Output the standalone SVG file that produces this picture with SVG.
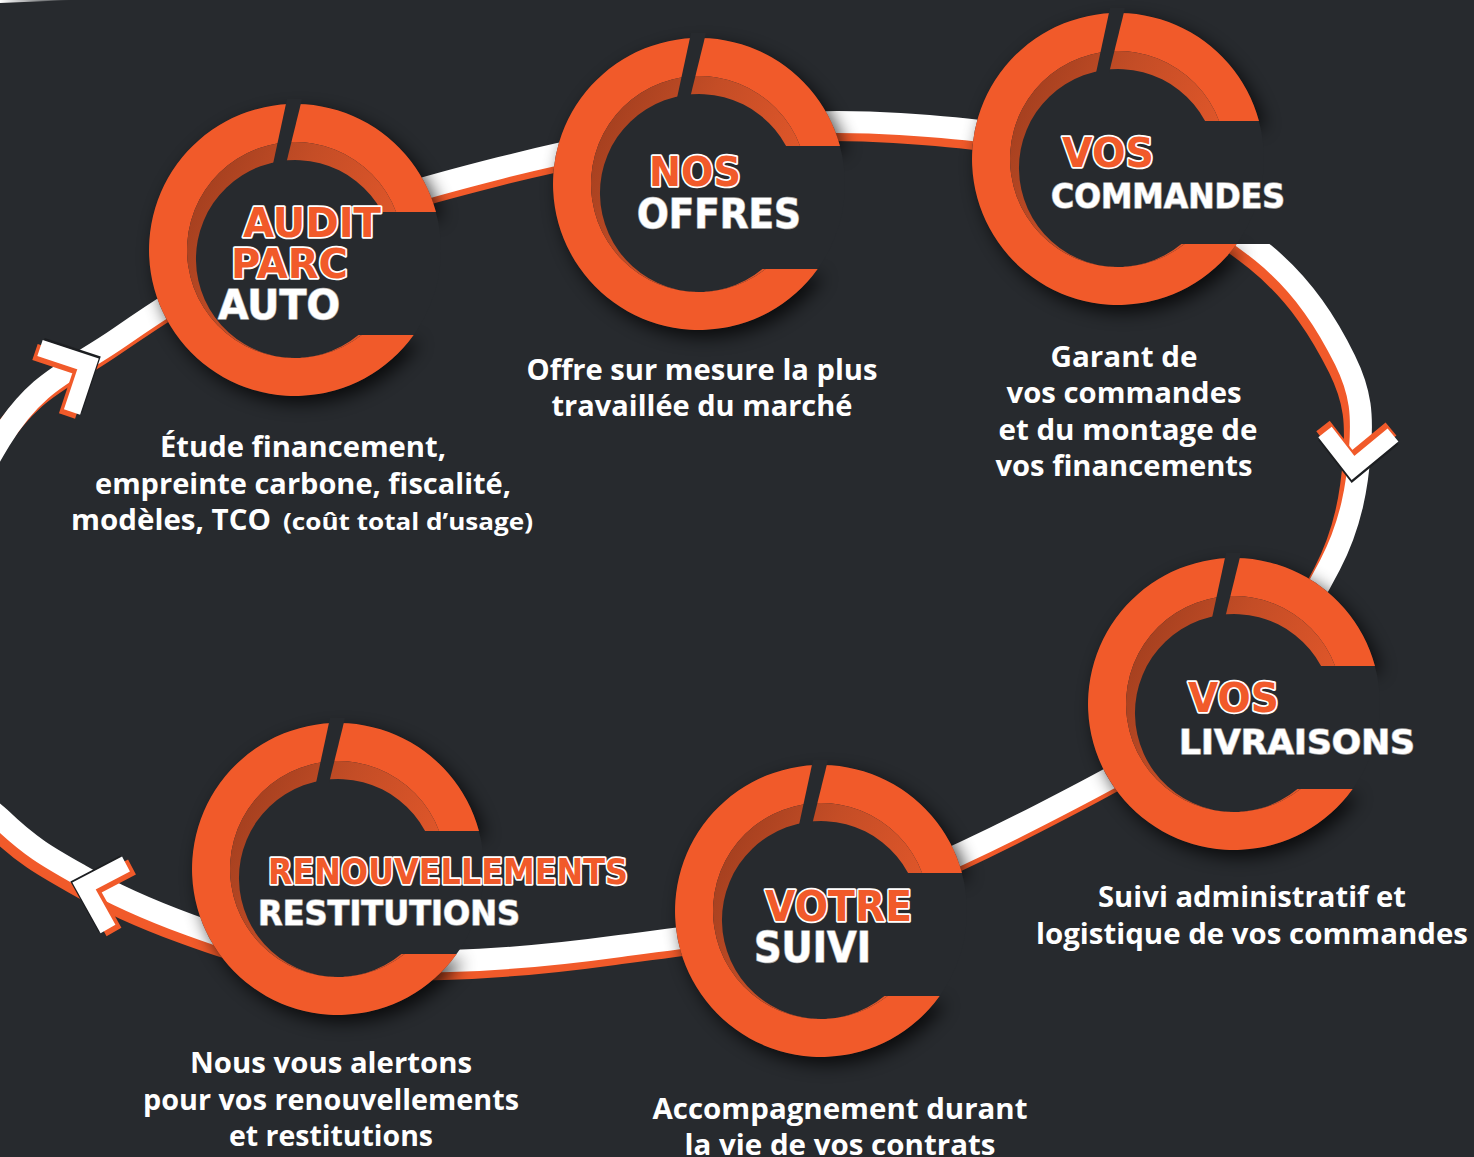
<svg xmlns="http://www.w3.org/2000/svg" xmlns:xlink="http://www.w3.org/1999/xlink" width="1474" height="1157" viewBox="0 0 1474 1157">
<defs>
<style>
.bg{fill:#272a2e}
.ring{fill:#f15a2a}
.t1{font-family:"DejaVu Sans","Liberation Sans",sans-serif;font-weight:bold;fill:#f15a2a;stroke:#ffffff;stroke-width:3.5;paint-order:stroke;stroke-linejoin:round}
.t2{font-family:"DejaVu Sans","Liberation Sans",sans-serif;font-weight:bold;fill:#ffffff;stroke:#a8a8a8;stroke-width:1.6;paint-order:stroke;stroke-linejoin:round}
.b{font-family:"Open Sans","Liberation Sans",sans-serif;font-weight:700;fill:#ffffff;font-size:29px}
.bs{font-size:24px}
.rib-o{fill:none;stroke:#f15a2a;stroke-width:22}
.rib-w{fill:none;stroke:#ffffff;stroke-width:22}
.chev{fill:none;stroke-width:17;stroke-linejoin:miter;stroke-miterlimit:10;stroke-linecap:butt}
</style>
<linearGradient id="wallg" x1="0" y1="0" x2="1" y2="0.5">
<stop offset="0" stop-color="#9a3b1d"/>
<stop offset="0.5" stop-color="#c44d26"/>
<stop offset="1" stop-color="#e2572a"/>
</linearGradient>
<linearGradient id="fade" x1="0" y1="0" x2="1" y2="0">
<stop offset="0" stop-color="#ffffff"/>
<stop offset="1" stop-color="#ffffff" stop-opacity="0"/>
</linearGradient>
<filter id="sh" x="-30%" y="-30%" width="160%" height="160%">
<feGaussianBlur stdDeviation="9"/>
</filter>
<path id="ringp" d="M141,-38 A146,146 0 1 0 118.7,85 L66.6,85 A108,108 0 1 1 101.1,-38 Z"/>
<path id="wallp" d="M101.1,-38 A108,108 0 1 0 66.6,85 L63.4,85 A99,99 0 1 1 87.1,-38 Z"/>
<polygon id="notchp" points="-8,-151 7,-151 -9,-86 -22,-86"/>
<rect id="gapc" x="0" y="-38" width="165" height="123" class="bg"/>
<g id="shadow"><use xlink:href="#ringp" transform="translate(6,7)" fill="#000" opacity="0.75" filter="url(#sh)"/></g>
<g id="cring"><circle r="146" class="bg"/><use xlink:href="#ringp" class="ring"/><use xlink:href="#wallp" fill="url(#wallg)"/><use xlink:href="#notchp" class="bg"/></g>
</defs>

<rect width="1474" height="1157" class="bg"/>
<path d="M0,0 L72,0 L0,3 Z" fill="url(#fade)"/>

<g id="connectors">
<path id="loop" class="rib-o" transform="translate(-6,8)" d="M0,440 C36.7,379.5 70,371.7 120,337 C170,302.3 236.7,260.2 300,232 C363.3,203.8 433.3,185 500,168 C566.7,151 633.3,137.3 700,130 C766.7,122.7 835,119.8 900,124 C965,128.2 1029.7,133.7 1090,155 C1150.3,176.3 1219.5,217.8 1262,252 C1304.5,286.2 1328.7,327 1345,360 C1361.3,393 1362.5,415.8 1360,450 C1357.5,484.2 1351.7,523.3 1330,565 C1308.3,606.7 1278.3,658.3 1230,700 C1181.7,741.7 1108.3,780 1040,815 C971.7,850 890,888.2 820,910 C750,931.8 681.7,937.5 620,946 C558.3,954.5 503.3,959.5 450,961 C396.7,962.5 343.3,961 300,955 C256.7,949 226.7,938.3 190,925 C153.3,911.7 111.7,893.3 80,875 C48.3,857.2 30,847 0,818 C-30,789 -100,763 -100,700 C-100,637 -36.7,500.5 0,440 Z"/>
<path class="rib-w" d="M0,440 C36.7,379.5 70,371.7 120,337 C170,302.3 236.7,260.2 300,232 C363.3,203.8 433.3,185 500,168 C566.7,151 633.3,137.3 700,130 C766.7,122.7 835,119.8 900,124 C965,128.2 1029.7,133.7 1090,155 C1150.3,176.3 1219.5,217.8 1262,252 C1304.5,286.2 1328.7,327 1345,360 C1361.3,393 1362.5,415.8 1360,450 C1357.5,484.2 1351.7,523.3 1330,565 C1308.3,606.7 1278.3,658.3 1230,700 C1181.7,741.7 1108.3,780 1040,815 C971.7,850 890,888.2 820,910 C750,931.8 681.7,937.5 620,946 C558.3,954.5 503.3,959.5 450,961 C396.7,962.5 343.3,961 300,955 C256.7,949 226.7,938.3 190,925 C153.3,911.7 111.7,893.3 80,875 C48.3,857.2 30,847 0,818 C-30,789 -100,763 -100,700 C-100,637 -36.7,500.5 0,440 Z"/>
<g id="arrow-left-top">
<polyline class="chev" stroke="#1c1e21" points="40,348 88,364 72,412" transform="translate(2,-2)"/>
<polyline class="chev" stroke="#f15a2a" points="40,348 88,364 72,412" transform="translate(-5,4)"/>
<polyline class="chev" stroke="#ffffff" points="40,348 88,364 72,412"/>
</g>
<g id="arrow-right">
<polyline class="chev" stroke="#1c1e21" points="1325,432 1353,468 1393,435" transform="translate(0,3)"/>
<polyline class="chev" stroke="#f15a2a" points="1325,432 1353,468 1393,435" transform="translate(-2,-6)"/>
<polyline class="chev" stroke="#ffffff" points="1325,432 1353,468 1393,435"/>
</g>
<g id="arrow-left-bottom">
<polyline class="chev" stroke="#1c1e21" points="126,864 84,886 108,929" transform="translate(-2,-1)"/>
<polyline class="chev" stroke="#f15a2a" points="126,864 84,886 108,929" transform="translate(6,3)"/>
<polyline class="chev" stroke="#ffffff" points="126,864 84,886 108,929"/>
</g>
</g>

<g id="node-audit">
<g transform="translate(295,250)"><use xlink:href="#gapc"/><use xlink:href="#shadow"/><use xlink:href="#cring"/></g>
<text class="t1" x="243" y="237" font-size="41" textLength="138" lengthAdjust="spacingAndGlyphs">AUDIT</text>
<text class="t1" x="231" y="278" font-size="41" textLength="117" lengthAdjust="spacingAndGlyphs">PARC</text>
<text class="t2" x="218" y="319" font-size="41" textLength="122" lengthAdjust="spacingAndGlyphs">AUTO</text>
<text class="b" x="303" y="457" text-anchor="middle" textLength="286" lengthAdjust="spacingAndGlyphs">Étude financement,</text>
<text class="b" x="303" y="494" text-anchor="middle" textLength="416" lengthAdjust="spacingAndGlyphs">empreinte carbone, fiscalité,</text>
<text class="b" x="71" y="530" textLength="200" lengthAdjust="spacingAndGlyphs">modèles, TCO</text>
<text class="b bs" x="283" y="530" textLength="250" lengthAdjust="spacingAndGlyphs">(coût total d’usage)</text>
</g>

<g id="node-offres">
<g transform="translate(699,184)"><use xlink:href="#gapc"/><use xlink:href="#shadow"/><use xlink:href="#cring"/></g>
<text class="t1" x="649" y="186" font-size="41" textLength="92" lengthAdjust="spacingAndGlyphs">NOS</text>
<text class="t2" x="637" y="228" font-size="41" textLength="164" lengthAdjust="spacingAndGlyphs">OFFRES</text>
<text class="b" x="702" y="380" text-anchor="middle" textLength="351" lengthAdjust="spacingAndGlyphs">Offre sur mesure la plus</text>
<text class="b" x="702" y="416" text-anchor="middle" textLength="301" lengthAdjust="spacingAndGlyphs">travaillée du marché</text>
</g>

<g id="node-commandes">
<g transform="translate(1118,159)"><use xlink:href="#gapc"/><use xlink:href="#shadow"/><use xlink:href="#cring"/></g>
<text class="t1" x="1062" y="167" font-size="41" textLength="92" lengthAdjust="spacingAndGlyphs">VOS</text>
<text class="t2" x="1051" y="208" font-size="34" textLength="234" lengthAdjust="spacingAndGlyphs">COMMANDES</text>
<text class="b" x="1124" y="367" text-anchor="middle" textLength="147" lengthAdjust="spacingAndGlyphs">Garant de</text>
<text class="b" x="1124" y="403" text-anchor="middle" textLength="235" lengthAdjust="spacingAndGlyphs">vos commandes</text>
<text class="b" x="1128" y="440" text-anchor="middle" textLength="259" lengthAdjust="spacingAndGlyphs">et du montage de</text>
<text class="b" x="1124" y="476" text-anchor="middle" textLength="257" lengthAdjust="spacingAndGlyphs">vos financements</text>
</g>

<g id="node-livraisons">
<g transform="translate(1234,704)"><use xlink:href="#gapc"/><use xlink:href="#shadow"/><use xlink:href="#cring"/></g>
<text class="t1" x="1188" y="712" font-size="40" textLength="91" lengthAdjust="spacingAndGlyphs">VOS</text>
<text class="t2" x="1179" y="754" font-size="34" textLength="236" lengthAdjust="spacingAndGlyphs">LIVRAISONS</text>
<text class="b" x="1252" y="907" text-anchor="middle" textLength="308" lengthAdjust="spacingAndGlyphs">Suivi administratif et</text>
<text class="b" x="1252" y="944" text-anchor="middle" textLength="432" lengthAdjust="spacingAndGlyphs">logistique de vos commandes</text>
</g>

<g id="node-suivi">
<g transform="translate(821,911)"><use xlink:href="#gapc"/><use xlink:href="#shadow"/><use xlink:href="#cring"/></g>
<text class="t1" x="765" y="921" font-size="42" textLength="147" lengthAdjust="spacingAndGlyphs">VOTRE</text>
<text class="t2" x="754" y="962" font-size="42" textLength="117" lengthAdjust="spacingAndGlyphs">SUIVI</text>
<text class="b" x="840" y="1119" text-anchor="middle" textLength="375" lengthAdjust="spacingAndGlyphs">Accompagnement durant</text>
<text class="b" x="840" y="1155" text-anchor="middle" textLength="311" lengthAdjust="spacingAndGlyphs">la vie de vos contrats</text>
</g>

<g id="node-renouvellements">
<g transform="translate(338,869)"><use xlink:href="#shadow"/><use xlink:href="#cring"/></g>
<text class="t1" x="268" y="884" font-size="35" textLength="360" lengthAdjust="spacingAndGlyphs">RENOUVELLEMENTS</text>
<text class="t2" x="258" y="925" font-size="34" textLength="262" lengthAdjust="spacingAndGlyphs">RESTITUTIONS</text>
<text class="b" x="331" y="1073" text-anchor="middle" textLength="282" lengthAdjust="spacingAndGlyphs">Nous vous alertons</text>
<text class="b" x="331" y="1110" text-anchor="middle" textLength="376" lengthAdjust="spacingAndGlyphs">pour vos renouvellements</text>
<text class="b" x="331" y="1146" text-anchor="middle" textLength="204" lengthAdjust="spacingAndGlyphs">et restitutions</text>
</g>
</svg>
